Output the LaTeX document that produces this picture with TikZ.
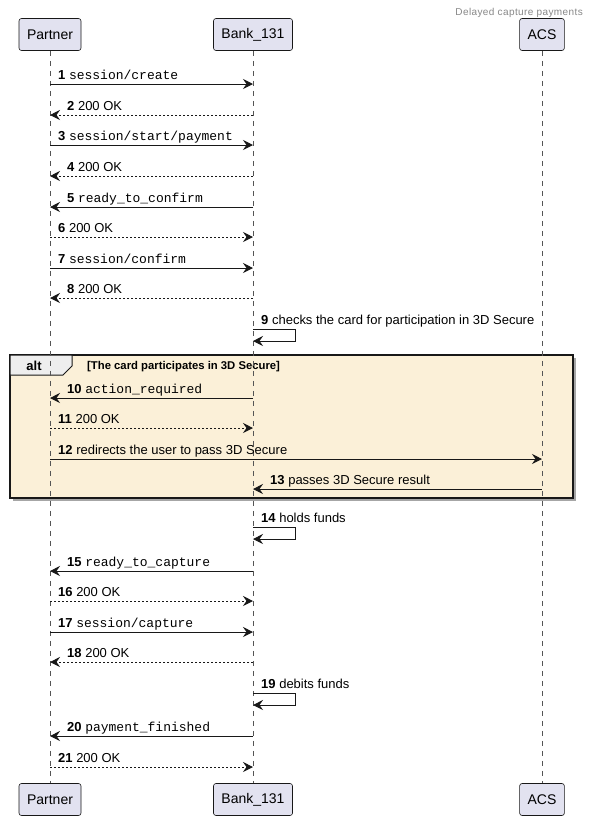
\documentclass[tikz,border=0pt]{standalone}
\usepackage{fontspec}
\setmainfont{Liberation Sans}
\newfontfamily\monofam{Liberation Mono}
\usetikzlibrary{arrows.meta,calc}
\definecolor{partfill}{HTML}{E2E2F0}
\definecolor{linec}{HTML}{181818}
\definecolor{altfill}{HTML}{FBF0D8}
\definecolor{tabfill}{HTML}{EEEEEE}
\definecolor{titlec}{HTML}{888888}
\definecolor{lifec}{HTML}{555555}
\newcommand\cde[1]{{\monofam #1}}
\newcommand\sdmsg[7]{%
  \coordinate (m#1a) at (#2,#4);
  \coordinate (m#1b) at (#3,#4);
  \draw[#5] (m#1a) -- (m#1b);
  \node[lbl] (t#1) at (#6,#4-5) {\textbf{#1} #7};}
\newcommand\sdself[3]{%
  \coordinate (m#1a) at (253,#2);
  \coordinate (m#1c) at (295,#2);
  \coordinate (m#1b) at (253,#2+12);
  \draw[solidmsg] (m#1a) -- (m#1c) |- (m#1b);
  \node[lbl] (t#1) at (261,#2-5) {\textbf{#1} #3};}
\tikzset{
  part/.style={draw=linec, fill=partfill, rounded corners=2.5pt, line width=0.6pt,
    minimum height=32pt, inner xsep=8pt, font=\fontsize{14}{16}\selectfont},
  life/.style={draw=lifec, dash pattern=on 5pt off 5pt, line width=0.6pt},
  solidmsg/.style={draw=linec, line width=1pt, -{Stealth[length=10pt,width=10pt,inset=3.5pt]}},
  dotmsg/.style={draw=linec, line width=1pt, dash pattern=on 2pt off 2pt, -{Stealth[length=10pt,width=10pt,inset=3.5pt]}},
  lbl/.style={anchor=base west, inner sep=0pt, font=\fontsize{13}{15}\selectfont},
}
\begin{document}
\begin{tikzpicture}[x=1pt,y=-1pt]
\useasboundingbox (0,0) rectangle (589,820);
\fill[white] (0,0) rectangle (589,820);
% title
\node[anchor=base east, inner sep=0pt, text=titlec, font=\fontsize{10}{12}\selectfont\addfontfeatures{LetterSpace=4}] (title) at (583,15) {Delayed capture payments};
% participants
\node[part, minimum width=62pt] (pt) at (50,34.5) {Partner};
\node[part, minimum width=78pt] (bt) at (253,34.5) {Bank\_131};
\node[part, minimum width=42pt] (at) at (542,34.5) {ACS};
\node[part, minimum width=62pt] (pb) at (50,799.5) {Partner};
\node[part, minimum width=78pt] (bb) at (253,799.5) {Bank\_131};
\node[part, minimum width=42pt] (ab) at (542,799.5) {ACS};
% alt box
\fill[gray!70] (12.5,357.5) rectangle (575.5,500.5);
\draw[linec, fill=altfill, line width=1.5pt] (10,355) rectangle (573,498);
\draw[linec, fill=tabfill, line width=1pt] (10,355) -- (72,355) -- (72,366) -- (63,375) -- (10,375) -- cycle;
\node[inner sep=0pt, font=\fontsize{13}{15}\selectfont\bfseries] (altlbl) at (34,365.5) {alt};
\node[anchor=base west, inner sep=0pt, font=\fontsize{11.3}{13}\selectfont\bfseries] (guard) at (87,369.5) {[The card participates in 3D Secure]};
% lifelines
\draw[life] (pt.south) -- (pb.north);
\draw[life] (bt.south) -- (bb.north);
\draw[life] (at.south) -- (ab.north);
% messages
\sdmsg{1}{50}{253}{84}{solidmsg}{58}{\cde{session/create}}
\sdmsg{2}{253}{50}{115}{dotmsg}{67}{200 OK}
\sdmsg{3}{50}{253}{145}{solidmsg}{58}{\cde{session/start/payment}}
\sdmsg{4}{253}{50}{176}{dotmsg}{67}{200 OK}
\sdmsg{5}{253}{50}{207}{solidmsg}{67}{\cde{ready\_to\_confirm}}
\sdmsg{6}{50}{253}{237}{dotmsg}{58}{200 OK}
\sdmsg{7}{50}{253}{268}{solidmsg}{58}{\cde{session/confirm}}
\sdmsg{8}{253}{50}{298}{dotmsg}{67}{200 OK}
\sdself{9}{329}{checks the card for participation in 3D Secure}
\sdmsg{10}{253}{50}{398}{solidmsg}{67}{\cde{action\_required}}
\sdmsg{11}{50}{253}{428}{dotmsg}{58}{200 OK}
\sdmsg{12}{50}{542}{459}{solidmsg}{58}{redirects the user to pass 3D Secure}
\sdmsg{13}{542}{253}{489}{solidmsg}{270}{passes 3D Secure result}
\sdself{14}{527}{holds funds}
\sdmsg{15}{253}{50}{571}{solidmsg}{67}{\cde{ready\_to\_capture}}
\sdmsg{16}{50}{253}{601}{dotmsg}{58}{200 OK}
\sdmsg{17}{50}{253}{632}{solidmsg}{58}{\cde{session/capture}}
\sdmsg{18}{253}{50}{662}{dotmsg}{67}{200 OK}
\sdself{19}{693}{debits funds}
\sdmsg{20}{253}{50}{736}{solidmsg}{67}{\cde{payment\_finished}}
\sdmsg{21}{50}{253}{767}{dotmsg}{58}{200 OK}
\end{tikzpicture}
\end{document}
